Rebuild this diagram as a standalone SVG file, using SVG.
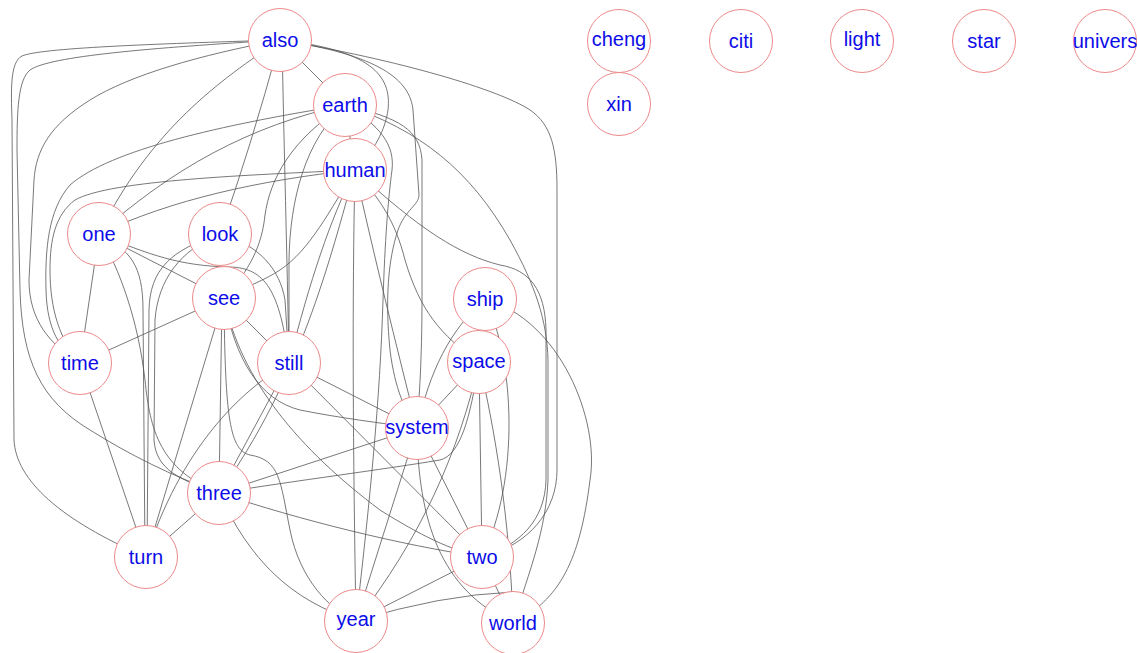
<svg xmlns="http://www.w3.org/2000/svg" width="1137" height="653" viewBox="0 0 1137 653">
<style>
.e{fill:none;stroke:#555;stroke-width:0.8}
.n circle{fill:#fff;stroke:#ec8a8a;stroke-width:1}
.n text{font-family:"Liberation Sans",Arial,sans-serif;font-size:20px;fill:#0c0ce8;text-anchor:middle}
</style>
<rect width="1137" height="653" fill="#fff"/>
<g id="connectors">
<path class="e" d="M280,40 L345,105"/>
<path class="e" d="M280,40 Q250,150 220,234"/>
<path class="e" d="M280,40 C220,80 150,130 99,234"/>
<path class="e" d="M282,40 C284,150 287,250 289,363"/>
<path class="e" d="M280,40 C150,44 40,48 22,56 C10,62 11,90 12,120 L14,440 C16,480 60,520 146,557"/>
<path class="e" d="M280,40 C150,48 50,56 30,70 C18,80 17,110 17,150 L20,290 C22,360 40,400 90,430 C130,455 170,475 219,493"/>
<path class="e" d="M280,40 C200,55 130,75 90,100 C50,125 36,150 34,180 L29,280 C29,320 50,345 80,363"/>
<path class="e" d="M280,40 C370,50 392,75 388,110 C385,130 375,150 355,170"/>
<path class="e" d="M280,40 C400,60 500,90 530,110 C552,125 557,150 557,190 L557,470 C557,510 530,545 482,557"/>
<path class="e" d="M280,40 C380,55 410,80 413,110 L419,195 C419,205 405,210 398,230 C388,260 385,300 390,350 C395,390 405,410 417,428"/>
<path class="e" d="M345,105 L355,170"/>
<path class="e" d="M345,105 C250,125 170,170 99,234"/>
<path class="e" d="M345,105 C220,125 110,150 70,185 C48,210 45,250 46,290 C47,330 60,350 80,363"/>
<path class="e" d="M345,105 C290,140 270,180 265,215 C262,245 250,270 224,298"/>
<path class="e" d="M345,105 C305,140 290,200 289,260 L289,363"/>
<path class="e" d="M345,105 C380,125 395,145 392,170 C388,200 385,240 383,300 C380,400 370,500 356,621"/>
<path class="e" d="M345,105 C420,130 470,170 510,240 C535,285 547,320 548,360 L548,480 C546,530 530,570 513,623"/>
<path class="e" d="M345,105 C400,118 420,130 422,160 L422,300 C422,360 419,400 417,428"/>
<path class="e" d="M355,170 C380,200 395,220 405,260 C420,310 440,335 479,362"/>
<path class="e" d="M355,170 C260,180 170,200 99,234"/>
<path class="e" d="M355,170 C250,175 110,180 75,200 C55,215 50,240 50,270 C50,310 60,340 80,363"/>
<path class="e" d="M355,170 C330,210 310,250 280,270 C265,280 250,285 224,298"/>
<path class="e" d="M355,170 C330,220 310,280 289,363"/>
<path class="e" d="M355,170 C330,260 300,380 219,493"/>
<path class="e" d="M355,170 C352,300 353,450 356,621"/>
<path class="e" d="M355,170 C375,260 395,340 417,428"/>
<path class="e" d="M355,170 C420,230 460,255 500,265 C530,270 545,290 546,330 L546,480 C545,520 520,545 482,557"/>
<path class="e" d="M99,234 L80,363"/>
<path class="e" d="M99,234 L224,298"/>
<path class="e" d="M99,234 C150,255 180,266 230,267 C265,268 280,290 289,363"/>
<path class="e" d="M99,234 C130,250 143,265 143,310 L145,557"/>
<path class="e" d="M99,234 C120,270 138,320 145,380 C150,430 160,470 219,493"/>
<path class="e" d="M220,234 C260,245 280,270 285,300 L289,363"/>
<path class="e" d="M220,234 C170,250 150,270 149,310 L147,557"/>
<path class="e" d="M220,234 C180,250 158,280 155,320 L154,440 C156,470 180,480 219,493"/>
<path class="e" d="M80,363 L224,298"/>
<path class="e" d="M80,363 L146,557"/>
<path class="e" d="M224,298 L289,363"/>
<path class="e" d="M222,298 L219,493"/>
<path class="e" d="M224,298 L146,557"/>
<path class="e" d="M224,298 C235,360 260,400 300,410 C340,418 380,423 417,428"/>
<path class="e" d="M224,298 C240,380 300,450 380,510 C420,535 450,550 482,557"/>
<path class="e" d="M224,298 C225,420 230,450 250,455 C280,460 280,480 290,530 C300,580 330,610 356,621"/>
<path class="e" d="M289,363 L417,428"/>
<path class="e" d="M289,363 L482,557"/>
<path class="e" d="M289,363 L219,493"/>
<path class="e" d="M289,363 C240,390 180,450 146,557"/>
<path class="e" d="M417,428 L219,493"/>
<path class="e" d="M417,428 L482,557"/>
<path class="e" d="M417,428 L356,621"/>
<path class="e" d="M417,428 C418,520 440,590 513,623"/>
<path class="e" d="M485,299 L479,362"/>
<path class="e" d="M485,299 C450,330 430,370 417,428"/>
<path class="e" d="M485,299 C515,360 520,480 482,557"/>
<path class="e" d="M485,299 C560,320 600,420 590,480 C580,560 560,600 513,623"/>
<path class="e" d="M479,362 L417,428"/>
<path class="e" d="M479,362 L482,557"/>
<path class="e" d="M479,362 C495,430 510,520 513,623"/>
<path class="e" d="M479,362 C460,450 420,540 356,621"/>
<path class="e" d="M479,362 C470,420 460,455 440,460 C380,470 300,480 219,493"/>
<path class="e" d="M219,493 L146,557"/>
<path class="e" d="M219,493 C300,520 400,545 482,557"/>
<path class="e" d="M219,493 C250,560 290,600 356,621"/>
<path class="e" d="M482,557 L356,621"/>
<path class="e" d="M482,557 L513,623"/>
<path class="e" d="M356,621 Q440,595 513,592"/>
</g>
<g id="node-also" class="n"><circle cx="280" cy="40" r="31.5"/><text x="280" y="47">also</text></g>
<g id="node-earth" class="n"><circle cx="345" cy="105" r="31.5"/><text x="345" y="112">earth</text></g>
<g id="node-human" class="n"><circle cx="355" cy="170" r="31.5"/><text x="355" y="177">human</text></g>
<g id="node-one" class="n"><circle cx="99" cy="234" r="31.5"/><text x="99" y="241">one</text></g>
<g id="node-look" class="n"><circle cx="220" cy="234" r="31.5"/><text x="220" y="241">look</text></g>
<g id="node-see" class="n"><circle cx="224" cy="298" r="31.5"/><text x="224" y="305">see</text></g>
<g id="node-time" class="n"><circle cx="80" cy="363" r="31.5"/><text x="80" y="370">time</text></g>
<g id="node-still" class="n"><circle cx="289" cy="363" r="31.5"/><text x="289" y="370">still</text></g>
<g id="node-ship" class="n"><circle cx="485" cy="299" r="31.5"/><text x="485" y="306">ship</text></g>
<g id="node-space" class="n"><circle cx="479" cy="362" r="31.5"/><text x="479" y="368">space</text></g>
<g id="node-system" class="n"><circle cx="417" cy="428" r="31.5"/><text x="417" y="434">system</text></g>
<g id="node-three" class="n"><circle cx="219" cy="493" r="31.5"/><text x="219" y="500">three</text></g>
<g id="node-turn" class="n"><circle cx="146" cy="557" r="31.5"/><text x="146" y="564">turn</text></g>
<g id="node-two" class="n"><circle cx="482" cy="557" r="31.5"/><text x="482" y="564">two</text></g>
<g id="node-year" class="n"><circle cx="356" cy="621" r="31.5"/><text x="356" y="626">year</text></g>
<g id="node-world" class="n"><circle cx="513" cy="623" r="31.5"/><text x="513" y="630">world</text></g>
<g id="node-cheng" class="n"><circle cx="619" cy="41" r="31.5"/><text x="619" y="46">cheng</text></g>
<g id="node-xin" class="n"><circle cx="619" cy="104" r="31.5"/><text x="619" y="111">xin</text></g>
<g id="node-citi" class="n"><circle cx="741" cy="41" r="31.5"/><text x="741" y="48">citi</text></g>
<g id="node-light" class="n"><circle cx="862" cy="41" r="31.5"/><text x="862" y="46">light</text></g>
<g id="node-star" class="n"><circle cx="984" cy="41" r="31.5"/><text x="984" y="48">star</text></g>
<g id="node-univers" class="n"><circle cx="1105" cy="41" r="31.5"/><text x="1105" y="48">univers</text></g>
</svg>
